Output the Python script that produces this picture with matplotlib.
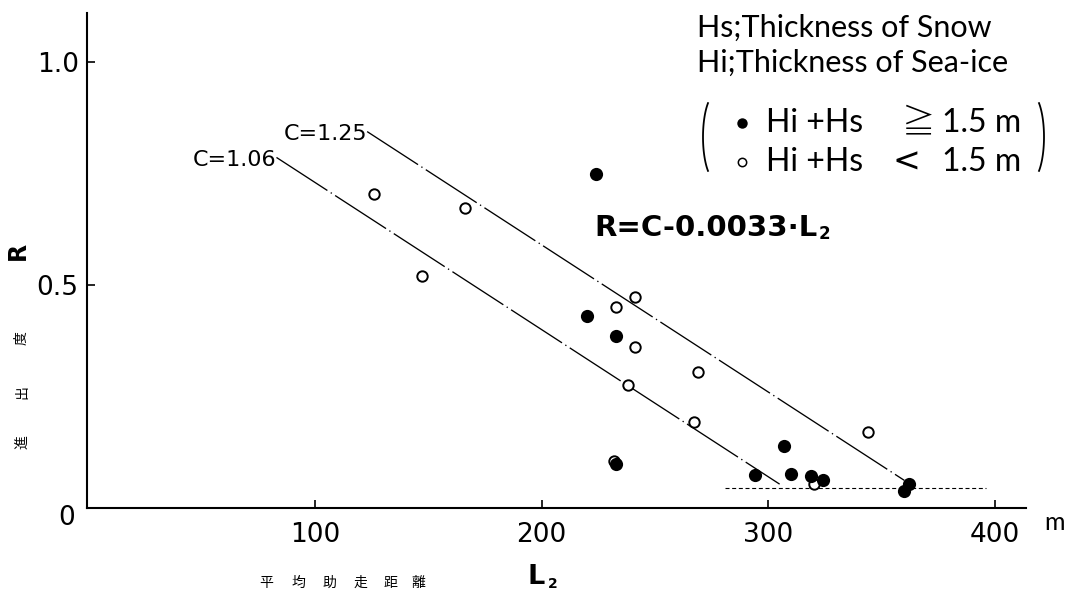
import matplotlib
matplotlib.use("Agg")
import matplotlib.pyplot as plt
from matplotlib.lines import Line2D
import numpy as np

# Mean run-up distance L2 (m) and ratio R, split by total thickness Hi+Hs
thick_L2 = [224, 220, 233, 233, 307, 294, 310, 319, 324, 362, 360]
thick_R = [0.75, 0.43, 0.385, 0.098, 0.138, 0.074, 0.076, 0.071, 0.063, 0.054, 0.038]
thin_L2 = [126, 166, 147, 241, 233, 241, 269, 238, 267, 344, 232, 320]
thin_R = [0.705, 0.672, 0.520, 0.473, 0.451, 0.362, 0.304, 0.275, 0.192, 0.170, 0.106, 0.054]

# R = C - 0.0033 * L2, one line per constant C over its own L2 span
slope = 0.0033
c_values = [1.06, 1.25]
c_start = [83, 123]
c_end = [305, 360]

# lower limit of R (dashed)
floor_R = 0.045
floor_L2 = [281, 396]

x_ticks = [100, 200, 300, 400]
y_ticks = [0.5, 1.0]
y_ticklabels = ["0.5", "1.0"]

W, H = 1076, 595
fig = plt.figure(figsize=(W / 100, H / 100), dpi=100)
fig.patch.set_facecolor("white")


def fp(x, y):
    """pixel position (origin top-left) -> figure fraction"""
    return x / W, 1 - y / H


ax = fig.add_axes([87 / W, (H - 508) / H, (1026 - 87) / W, (508 - 13) / H])
ax.set_xlim(-0.6, 413.7)
ax.set_ylim(0, 1.11)
for s in ("top", "right"):
    ax.spines[s].set_visible(False)
for s in ("left", "bottom"):
    ax.spines[s].set_linewidth(1.5)

ax.set_xticks(x_ticks)
ax.set_xticklabels([str(t) for t in x_ticks])
ax.set_yticks(y_ticks)
ax.set_yticklabels(y_ticklabels)
ax.tick_params(axis="both", direction="in", length=5.5, width=1.2,
               labelsize=19, colors="black")
ax.tick_params(axis="x", pad=10)
ax.tick_params(axis="y", pad=6)

# fitted lines
for c, x0, x1 in zip(c_values, c_start, c_end):
    xs = np.array([x0, x1])
    ys = c - slope * xs
    ax.plot(xs, ys, color="black", lw=0.95, dashes=(46, 3.0, 1.0, 3.0),
            solid_capstyle="butt", dash_capstyle="butt", zorder=2)
    ax.text(x0, ys[0] - 0.006, f"C={c:.2f}", ha="right", va="center",
            fontsize=16, color="black")

ax.plot(floor_L2, [floor_R, floor_R], color="black", lw=0.8,
        dashes=(3.6, 2.4), zorder=2)

# observations
ax.plot(thin_L2, thin_R, linestyle="none", marker="o", ms=7.5,
        mfc="white", mec="black", mew=1.4, zorder=3, clip_on=False)
ax.plot(thick_L2, thick_R, linestyle="none", marker="o", ms=9.5,
        mfc="black", mec="black", mew=0, zorder=4, clip_on=False)

# legend / annotation text style (thin sans)
thin = dict(family=["Lato", "Noto Sans CJK JP", "DejaVu Sans"],
            weight="normal", color="black")

# origin label and unit
fig.text(*fp(67, 518), "0", fontsize=19, ha="center", va="center")
fig.text(*fp(1054, 522), "m", fontsize=18, ha="center", va="center", **thin)

# axis titles
fig.text(*fp(18, 251), "R", fontsize=17, weight="bold", rotation=90,
         ha="center", va="center")
for ch, y in zip("度出進", [338, 392, 442]):
    fig.text(*fp(22, y), ch, fontsize=10, rotation=90, ha="center",
             va="center", family=["Noto Sans CJK JP", "DejaVu Sans"])
for ch, x in zip("平均助走距離", [266, 298, 329, 360, 390, 418]):
    fig.text(*fp(x, 583), ch, fontsize=10, ha="center", va="center",
             family=["Noto Sans CJK JP", "DejaVu Sans"])
fig.text(*fp(536, 577), "L", fontsize=19.5, weight="bold",
         ha="center", va="center")
fig.text(*fp(553, 584), "2", fontsize=10, weight="bold",
         ha="center", va="center")

# regression formula
formula = fig.text(*fp(594, 228), "R=C-0.0033·L", fontsize=21,
                   weight="bold", ha="left", va="center")
fig.canvas.draw()
bb = formula.get_window_extent(renderer=fig.canvas.get_renderer())
fig.text((bb.x1 + 1) / W, 1 - 234 / H, "2", fontsize=12, weight="bold",
         ha="left", va="center")

# legend block
fig.text(*fp(697, 28), "Hs;Thickness of Snow", fontsize=22, ha="left",
         va="center", **thin)
fig.text(*fp(697, 63), "Hi;Thickness of Sea-ice", fontsize=22, ha="left",
         va="center", **thin)

rows = [
    (123, True, "≧", 919, ["Noto Sans CJK JP", "DejaVu Sans"], "light"),
    (162, False, "<", 906, ["DejaVu Sans"], "normal"),
]
for y, filled, sym, sx, sym_family, sym_weight in rows:
    fx, fy = fp(742, y)
    fig.add_artist(Line2D([fx], [fy], transform=fig.transFigure,
                          marker="o", ms=7.5 if filled else 6,
                          mfc="black" if filled else "white",
                          mec="black", mew=0 if filled else 1.1,
                          linestyle="none"))
    fig.text(*fp(766, y), "Hi +Hs", fontsize=23, ha="left", va="center",
             **thin)
    fig.text(*fp(sx, y), sym, fontsize=24, ha="center", va="center",
             family=sym_family, weight=sym_weight, color="black")
    fig.text(*fp(942, y), "1.5 m", fontsize=23, ha="left", va="center",
             **thin)

# tall brackets around the two symbol rows
t = np.radians(np.linspace(128, 232, 60))
for cx, sign in [(716, 1), (1031, -1)]:
    px = cx + sign * 13 * np.cos(t)
    py = 137 + 43 * np.sin(t)
    fig.add_artist(Line2D(px / W, 1 - py / H, transform=fig.transFigure,
                          color="black", lw=1.3))

fig.savefig("out.png", dpi=100, facecolor="white")
